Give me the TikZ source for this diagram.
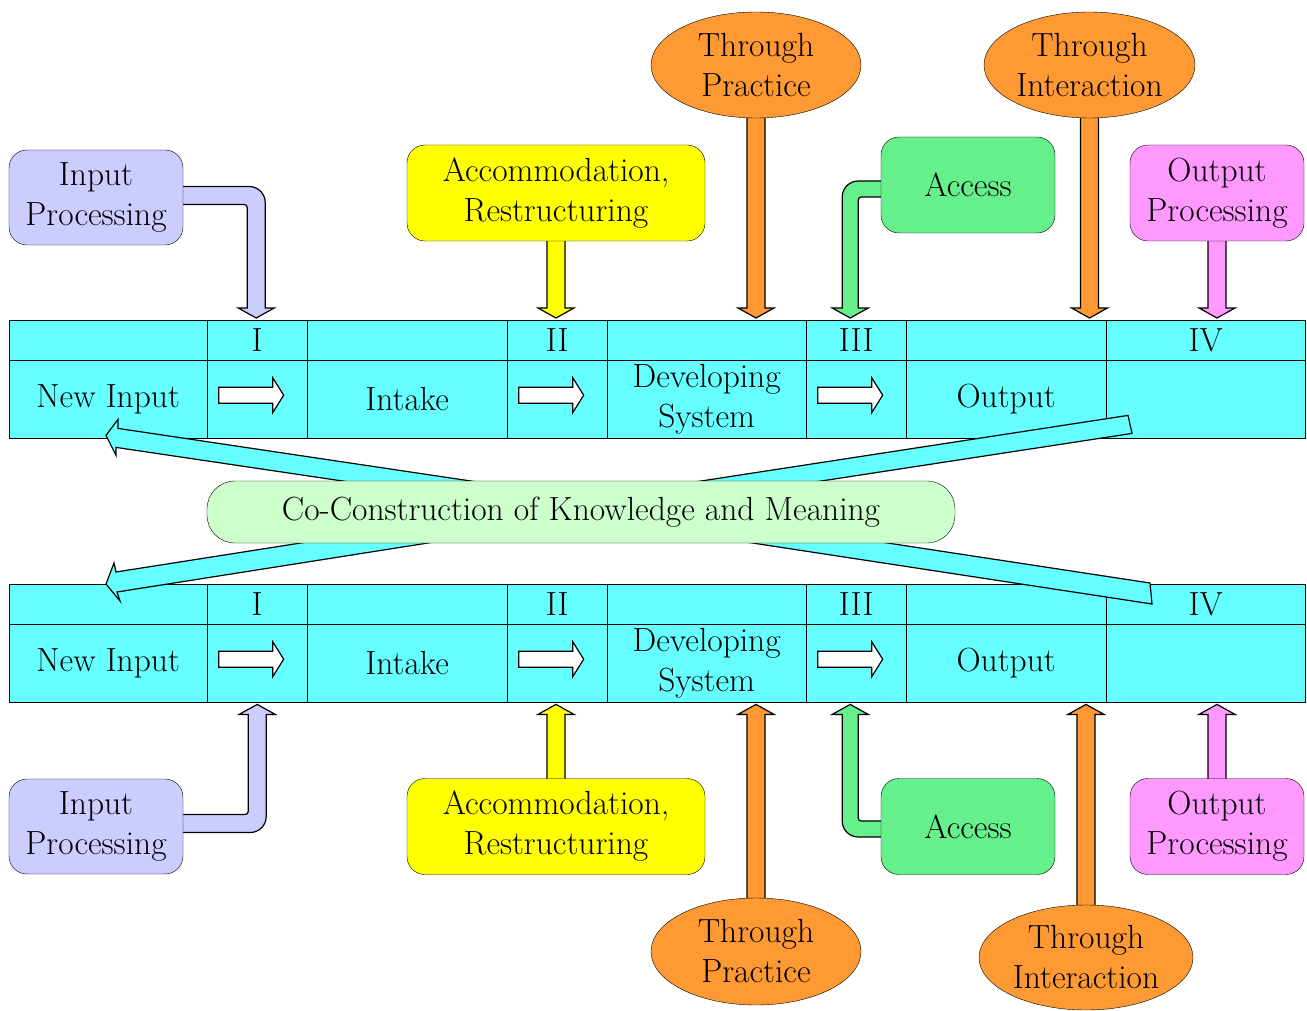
\documentclass[tikz,border=0pt]{standalone}
\usepackage{fontspec}
\usetikzlibrary{shapes.geometric,calc}
\definecolor{cyanT}{RGB}{102,255,255}
\definecolor{lav}{RGB}{204,204,255}
\definecolor{yel}{RGB}{255,255,0}
\definecolor{org}{RGB}{255,153,51}
\definecolor{grn}{RGB}{102,240,140}
\definecolor{pnk}{RGB}{255,153,255}
\definecolor{lgrn}{RGB}{204,255,204}
\pgfdeclarelayer{back}
\pgfdeclarelayer{tab}
\pgfdeclarelayer{conn}
\pgfsetlayers{back,tab,conn,main}

\newcommand\mktable[2]{%
 \node[cell=40pt, minimum width=198pt] (#1A1) at (9,#2) {};
 \node[cell=40pt, minimum width=100pt] (#1A2) at (207,#2) {I};
 \node[cell=40pt, minimum width=200pt] (#1A3) at (307,#2) {};
 \node[cell=40pt, minimum width=100pt] (#1A4) at (507,#2) {II};
 \node[cell=40pt, minimum width=199pt] (#1A5) at (607,#2) {};
 \node[cell=40pt, minimum width=100pt] (#1A6) at (806,#2) {III};
 \node[cell=40pt, minimum width=200pt] (#1A7) at (906,#2) {};
 \node[cell=40pt, minimum width=199pt] (#1A8) at (1106,#2) {IV};
 \node[cell=78pt, minimum width=198pt] (#1B1) at (9,#2+40) {New Input};
 \node[cell=78pt, minimum width=100pt] (#1B2) at (207,#2+40) {};
 \node[cell=78pt, minimum width=200pt] (#1B3) at (307,#2+40) {Intake};
 \node[cell=78pt, minimum width=100pt] (#1B4) at (507,#2+40) {};
 \node[cell=78pt, minimum width=199pt] (#1B5) at (607,#2+40) {Developing\\System};
 \node[cell=78pt, minimum width=100pt] (#1B6) at (806,#2+40) {};
 \node[cell=78pt, minimum width=200pt] (#1B7) at (906,#2+40) {Output};
 \node[cell=78pt, minimum width=199pt] (#1B8) at (1106,#2+40) {};
 \foreach \c in {2,4,6}{\draw[wa] (#1B\c.center) ++(-38.5,-12) -- ++(54,0) -- ++(0,-9.5) -- ++(11,17.5) -- ++(-11,17.5) -- ++(0,-9.5) -- ++(-54,0) -- cycle;}
}
% straight block arrow going down: colour, source anchor, target anchor
\newcommand\vdown[3]{%
 \filldraw[fill=#1, blk] let \p1=(#2), \p2=(#3) in
  (\x1-9pt,\y1+6pt) -- (\x1-9pt,\y2+12pt) -- (\x1-18pt,\y2+12pt) -- (\x1,\y2+2pt)
  -- (\x1+18pt,\y2+12pt) -- (\x1+9pt,\y2+12pt) -- (\x1+9pt,\y1+6pt);}
% straight block arrow going up
\newcommand\vup[3]{%
 \filldraw[fill=#1, blk] let \p1=(#2), \p2=(#3) in
  (\x1-9pt,\y1-6pt) -- (\x1-9pt,\y2-12pt) -- (\x1-18pt,\y2-12pt) -- (\x1,\y2-2pt)
  -- (\x1+18pt,\y2-12pt) -- (\x1+9pt,\y2-12pt) -- (\x1+9pt,\y1-6pt);}

\begin{document}
\begin{tikzpicture}[x=1pt,y=-1pt, line width=1.2pt,
  every node/.style={font=\fontsize{33.5}{40}\selectfont, align=center, inner sep=0pt},
  cell/.style={draw, fill=cyanT, anchor=north west, minimum height=#1},
  rbox/.style={draw, rounded corners=18pt, fill=#1},
  oval/.style={draw, ellipse, fill=org},
  blk/.style={draw=black, line width=1.2pt, line join=miter},
  wa/.style={draw=black, fill=white, line width=1.2pt},
]
\begin{pgfonlayer}{back}
\fill[white] (0,0) rectangle (1307,1011);
\end{pgfonlayer}
\useasboundingbox (0,0) rectangle (1307,1011);

% tables
\begin{pgfonlayer}{tab}
\mktable{t}{320}
\mktable{u}{584}
\end{pgfonlayer}

% boxes (main layer)
\node[draw, fill=lgrn, rounded corners=28pt, minimum width=748pt, minimum height=62pt] (cc) at (581,512) {Co-Construction of Knowledge and Meaning};

\node[rbox=lav, minimum width=174pt, minimum height=95pt] (ip1) at (96,197.5) {Input\\Processing};
\node[rbox=yel, minimum width=298pt, minimum height=96pt] (ac1) at (556,193) {Accommodation,\\Restructuring};
\node[oval, minimum width=210pt, minimum height=106pt] (tp1) at (756,65) {Through\\Practice};
\node[oval, minimum width=211pt, minimum height=106pt] (ti1) at (1089.5,65) {Through\\Interaction};
\node[rbox=grn, minimum width=174pt, minimum height=96pt] (ax1) at (968,185) {Access};
\node[rbox=pnk, minimum width=174pt, minimum height=96pt] (op1) at (1217,193) {Output\\Processing};

\node[rbox=lav, minimum width=174pt, minimum height=95pt] (ip2) at (96,826.5) {Input\\Processing};
\node[rbox=yel, minimum width=298pt, minimum height=96pt] (ac2) at (556,826.5) {Accommodation,\\Restructuring};
\node[oval, minimum width=210pt, minimum height=107pt] (tp2) at (756,951.5) {Through\\Practice};
\node[oval, minimum width=214pt, minimum height=105pt] (ti2) at (1086,957.5) {Through\\Interaction};
\node[rbox=grn, minimum width=174pt, minimum height=96pt] (ax2) at (968,826.5) {Access};
\node[rbox=pnk, minimum width=174pt, minimum height=96pt] (op2) at (1217,826.5) {Output\\Processing};

\begin{pgfonlayer}{conn}
% wedge arrows between the two rows, behind the central box
\filldraw[fill=cyanT, blk]
  ([shift={(323,9)}]cc.north west) -- ([shift={(109,-10)}]tB1.south west)
  -- ([shift={(109,-19)}]tB1.south west) -- ([shift={(97,-3)}]tB1.south west)
  -- ([shift={(107,17)}]tB1.south west) -- ([shift={(107,9)}]tB1.south west)
  -- ([shift={(195,9)}]cc.north west) -- cycle;
\filldraw[fill=cyanT, blk]
  ([shift={(437,9)}]cc.north west) -- ([shift={(22,-23)}]tB8.south west)
  -- ([shift={(26,-5)}]tB8.south west) -- ([shift={(557,9)}]cc.north west) -- cycle;
\filldraw[fill=cyanT, blk]
  ([shift={(150,-9)}]cc.south west) -- ([shift={(107,-12)}]uA1.north west)
  -- ([shift={(105,-21)}]uA1.north west) -- ([shift={(97,0)}]uA1.north west)
  -- ([shift={(111,17)}]uA1.north west) -- ([shift={(108,8)}]uA1.north west)
  -- ([shift={(277,-9)}]cc.south west) -- cycle;
\filldraw[fill=cyanT, blk]
  ([shift={(623,-9)}]cc.south west) -- ([shift={(44,-1)}]uA8.north west)
  -- ([shift={(46,20)}]uA8.north west) -- ([shift={(488,-9)}]cc.south west) -- cycle;

% straight connectors
\vdown{yel}{ac1.south}{tA4.north}
\vdown{org}{tp1.south}{tA5.north}
\vdown{org}{ti1.south}{tA7.north}
\vdown{pnk}{op1.south}{tA8.north}
\vup{yel}{ac2.north}{uB4.south}
\vup{org}{tp2.north}{uB5.south}
\vup{org}{ti2.north}{uB7.south}
\vup{pnk}{op2.north}{uB8.south}

% bent connectors
\filldraw[fill=lav, blk] let \p1=([yshift=2pt]ip1.east), \p2=([xshift=-1pt]tA2.north) in
 (\x1-5pt,\y1+9pt) -- (\x2-7pt,\y1+9pt) arc[start angle=90,end angle=0,radius=16pt]
 -- (\x2+9pt,\y2+12pt) -- (\x2+18pt,\y2+12pt) -- (\x2,\y2+2pt) -- (\x2-18pt,\y2+12pt)
 -- (\x2-9pt,\y2+12pt) -- (\x2-9pt,\y1-12pt) arc[start angle=0,end angle=90,radius=3pt]
 -- (\x1-5pt,\y1-9pt) -- cycle;
\filldraw[fill=grn, blk] let \p1=([yshift=-4pt]ax1.west), \p2=([xshift=-6pt]tA6.north) in
 (\x1+5pt,\y1+8pt) -- (\x2+8pt,\y1+8pt) arc[start angle=90,end angle=180,radius=16pt]
 -- (\x2-8pt,\y2+12pt) -- (\x2-18pt,\y2+12pt) -- (\x2,\y2+2pt) -- (\x2+18pt,\y2+12pt)
 -- (\x2+8pt,\y2+12pt) -- (\x2+8pt,\y1-11pt) arc[start angle=180,end angle=90,radius=3pt]
 -- (\x1+5pt,\y1-8pt) -- cycle;
\filldraw[fill=lav, blk] let \p1=([yshift=3pt]ip2.east), \p2=(uB2.south) in
 (\x1-5pt,\y1-9pt) -- (\x2-7pt,\y1-9pt) arc[start angle=-90,end angle=0,radius=16pt]
 -- (\x2+9pt,\y2-12pt) -- (\x2+18pt,\y2-12pt) -- (\x2,\y2-2pt) -- (\x2-18pt,\y2-12pt)
 -- (\x2-9pt,\y2-12pt) -- (\x2-9pt,\y1+12pt) arc[start angle=0,end angle=-90,radius=3pt]
 -- (\x1-5pt,\y1+9pt) -- cycle;
\filldraw[fill=grn, blk] let \p1=([yshift=-2.5pt]ax2.west), \p2=([xshift=-6pt]uB6.south) in
 (\x1+5pt,\y1-8pt) -- (\x2+8pt,\y1-8pt) arc[start angle=-90,end angle=-180,radius=16pt]
 -- (\x2-8pt,\y2-12pt) -- (\x2-18pt,\y2-12pt) -- (\x2,\y2-2pt) -- (\x2+18pt,\y2-12pt)
 -- (\x2+8pt,\y2-12pt) -- (\x2+8pt,\y1+11pt) arc[start angle=180,end angle=270,radius=3pt]
 -- (\x1+5pt,\y1+8pt) -- cycle;
\end{pgfonlayer}
\end{tikzpicture}
\end{document}
